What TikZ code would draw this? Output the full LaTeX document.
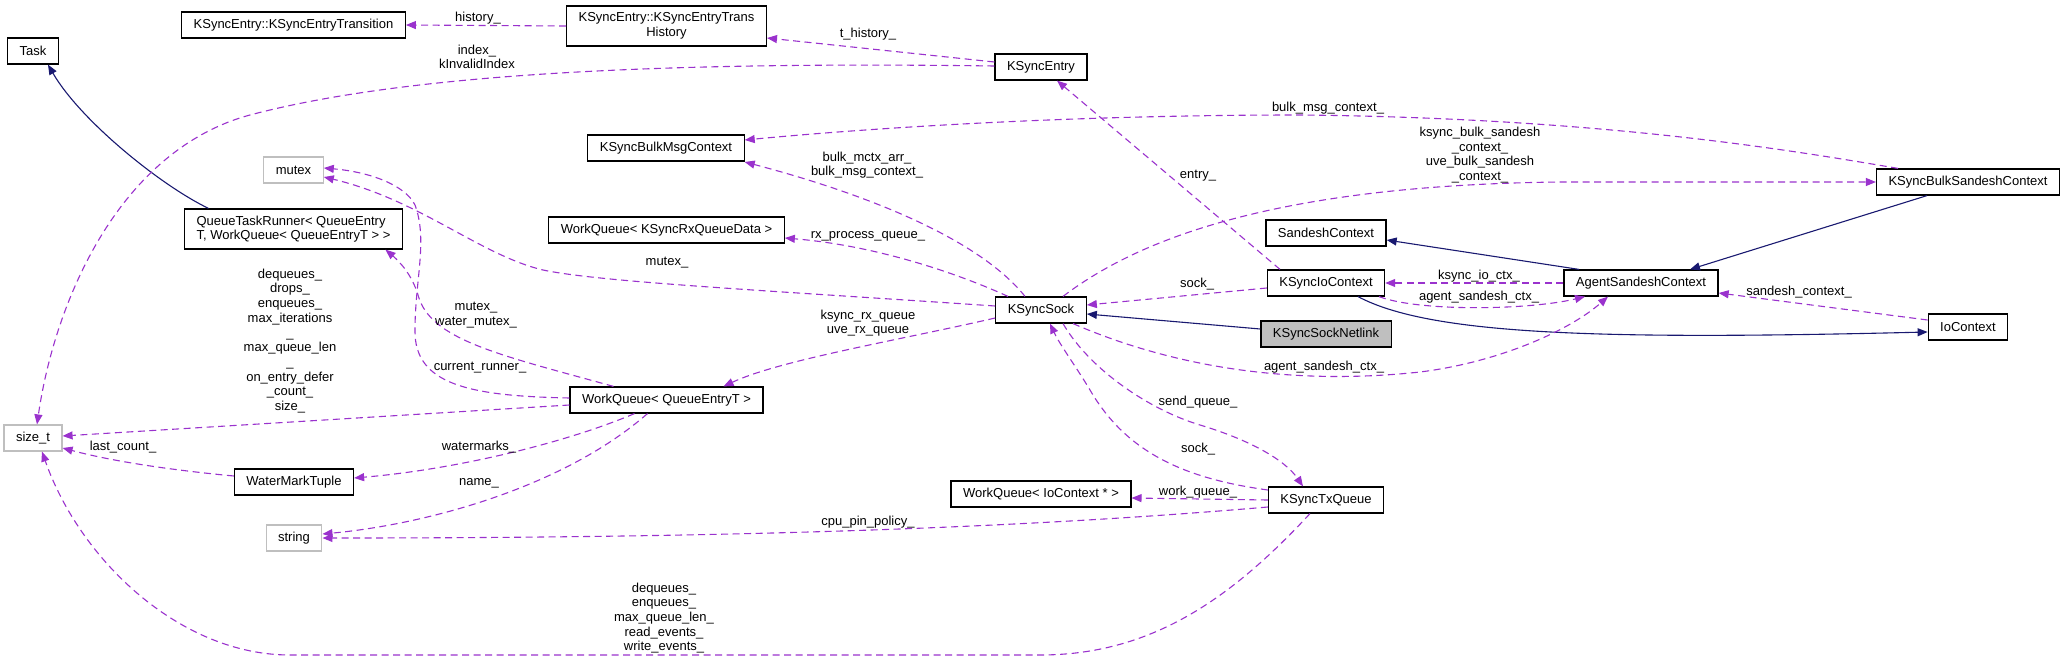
\documentclass[tikz,border=0pt]{standalone}
\usepackage{fontspec}
\setmainfont{Liberation Sans}
\usepackage{xcolor}
\usepackage{tikz}
\usetikzlibrary{arrows.meta}
\definecolor{mempurple}{HTML}{9A32CD}
\definecolor{inhnavy}{HTML}{191970}
\definecolor{extgray}{HTML}{BFBFBF}
\tikzset{
  cls/.style={draw, line width=1.2pt, fill=white, minimum height=26pt,
              inner xsep=12pt, inner ysep=3pt, font=\fontsize{13}{14.7}\selectfont},
  twoline/.style={cls, minimum height=40pt},
  ext/.style={cls, draw=extgray},
  cur/.style={cls, fill=extgray},
  lbl/.style={inner sep=0pt, align=center, font=\fontsize{13}{14.7}\selectfont},
  memarrow/.style={-{Triangle[length=10pt,width=8pt]}, draw=mempurple,
                   line width=1.1pt, dash pattern=on 7pt off 4.5pt},
  inharrow/.style={-{Triangle[length=10pt,width=8pt]}, draw=inhnavy,
                   line width=1.1pt},
}
\begin{document}
\begin{tikzpicture}[x=1pt, y=-1pt]
  \useasboundingbox (0,0) rectangle (2065,661);

  % classes, column by column
  \node[cls]              (task)    at (33,51)    {Task};
  \node[ext]              (sizet)   at (33,438)   {size\_t};
  \node[cls]              (trans)   at (293.5,25) {KSyncEntry::KSyncEntryTransition};
  \node[ext]              (mutex)   at (293.5,170) {mutex};
  \node[twoline, align=left] (qtr)  at (293.5,229) {QueueTaskRunner< QueueEntry\\T, WorkQueue< QueueEntryT > >};
  \node[cls]              (wmt)     at (294,482)  {WaterMarkTuple};
  \node[ext]              (string)  at (294,538)  {string};
  \node[twoline, align=center] (hist) at (666.5,26) {KSyncEntry::KSyncEntryTrans\\History};
  \node[cls]              (bulkmsg) at (666,148)  {KSyncBulkMsgContext};
  \node[cls]              (wqrx)    at (666.5,230) {WorkQueue< KSyncRxQueueData >};
  \node[cls]              (wq)      at (666.5,400) {WorkQueue< QueueEntryT >};
  \node[cls]              (entry)   at (1041,67)  {KSyncEntry};
  \node[cls]              (sock)    at (1041,310) {KSyncSock};
  \node[cls]              (wqio)    at (1041,494) {WorkQueue< IoContext * >};
  \node[cls]              (sandesh) at (1326,233) {SandeshContext};
  \node[cls]              (ioctx)   at (1326,283) {KSyncIoContext};
  \node[cur]              (netlink) at (1326,334) {KSyncSockNetlink};
  \node[cls]              (txq)     at (1326,500) {KSyncTxQueue};
  \node[cls]              (agent)   at (1641,283) {AgentSandeshContext};
  \node[cls]              (bulksan) at (1968,182) {KSyncBulkSandeshContext};
  \node[cls]              (ioc)     at (1968,327) {IoContext};

  % inheritance
  \draw[inharrow] ([xshift=-85pt]qtr.north) .. controls (160,185) and (80,120) .. ([xshift=15pt]task.south);
  \draw[inharrow] ([yshift=5pt]netlink.west) -- ([yshift=-4pt]sock.east);
  \draw[inharrow] ([xshift=-41pt]bulksan.south) -- ([xshift=49pt]agent.north);
  \draw[inharrow] ([xshift=-62pt]agent.north) -- ([yshift=-7pt]sandesh.east);
  \draw[inharrow] ([xshift=32pt]ioctx.south) .. controls (1430,335) and (1600,340) .. ([yshift=-5pt]ioc.west);

  % members
  \draw[memarrow] (hist.west) -- (trans.east);
  \draw[memarrow] ([yshift=5pt]entry.west) -- ([yshift=-12pt]hist.east);
  \draw[memarrow] ([yshift=1pt]entry.west) .. controls (700,62) and (420,70) .. (250,115)
                  .. controls (120,150) and (55,300) .. ([xshift=4pt]sizet.north);
  \draw[memarrow] ([yshift=4pt]sock.west) .. controls (760,290) and (600,282) .. (543,270)
                  .. controls (480,255) and (420,200) .. ([yshift=-7pt]mutex.east);
  \draw[memarrow] ([yshift=2pt]wq.west) .. controls (470,396) and (414,385) .. (415,330)
                  .. controls (415,280) and (428,240) .. (415,205)
                  .. controls (405,185) and (370,172) .. ([yshift=2pt]mutex.east);
  \draw[memarrow] ([xshift=-53pt]wq.north) .. controls (500,355) and (430,340) .. (418,295)
                  .. controls (412,275) and (400,262) .. ([xshift=92pt]qtr.south);
  \draw[memarrow] ([yshift=-5pt]wq.west) -- ([yshift=2pt]sizet.east);
  \draw[memarrow] ([yshift=6pt]wmt.west) .. controls (150,468) and (100,458) .. ([yshift=-10pt]sizet.east);
  \draw[memarrow] ([xshift=-32pt]wq.south) .. controls (560,445) and (450,470) .. ([yshift=4pt]wmt.east);
  \draw[memarrow] ([xshift=-19pt]wq.south) .. controls (560,490) and (420,525) .. ([yshift=4pt]string.east);
  \draw[memarrow] ([yshift=-7pt]txq.west) .. controls (1000,530) and (700,538) .. (string.east);
  \draw[memarrow] ([xshift=-16pt]txq.south) .. controls (1230,600) and (1150,655) .. (1040,655)
                  -- (290,655) .. controls (180,655) and (80,560) .. ([xshift=9pt]sizet.south);
  \draw[memarrow] (txq.west) -- ([yshift=-4pt]wqio.east);
  \draw[memarrow] ([yshift=10pt]txq.west) .. controls (1180,478) and (1125,450) .. (1090,390)
                  .. controls (1075,365) and (1060,345) .. ([xshift=9pt]sock.south);
  \draw[memarrow] ([xshift=22pt]sock.south) .. controls (1090,370) and (1150,410) .. (1200,425)
                  .. controls (1250,440) and (1285,460) .. ([xshift=-23pt]txq.north);
  \draw[memarrow] ([yshift=-8pt]sock.west) .. controls (900,340) and (780,360) .. ([xshift=57pt]wq.north);
  \draw[memarrow] ([xshift=-33pt]sock.north) .. controls (950,270) and (870,245) .. ([yshift=-8pt]wqrx.east);
  \draw[memarrow] ([xshift=-16pt]sock.north) .. controls (980,240) and (870,195) .. ([yshift=-14pt]bulkmsg.east);
  \draw[memarrow] ([xshift=-46pt]ioctx.north) -- ([xshift=16pt]entry.south);
  \draw[memarrow] ([yshift=-5pt]ioctx.west) -- ([yshift=5pt]sock.east);
  \draw[memarrow] ([xshift=22pt]sock.north) .. controls (1150,230) and (1300,185) .. (1560,182)
                  -- (bulksan.west);
  \draw[memarrow] ([xshift=-70pt]bulksan.north) .. controls (1790,150) and (1600,118) .. (1300,115)
                  .. controls (1050,115) and (850,130) .. ([yshift=8pt]bulkmsg.east);
  \draw[memarrow] (agent.west) -- (ioctx.east);
  \draw[memarrow] ([xshift=53pt]ioctx.south) .. controls (1420,312) and (1530,310) .. ([xshift=-56pt]agent.south);
  \draw[memarrow] ([xshift=32pt]sock.south) .. controls (1180,370) and (1300,385) .. (1420,372)
                  .. controls (1500,362) and (1570,330) .. ([xshift=-33pt]agent.south);
  \draw[memarrow] ([yshift=7pt]ioc.west) -- ([yshift=-10pt]agent.east);

  % edge labels
  \node[lbl] (lhist)  at (478,18)   {history\_};
  \node[lbl] (lidx)   at (477,57)   {index\_\\kInvalidIndex};
  \node[lbl] (lthist) at (868,34)   {t\_history\_};
  \node[lbl] (lbulk)  at (1328,108) {bulk\_msg\_context\_};
  \node[lbl] (lksb)   at (1480,155) {ksync\_bulk\_sandesh\\\_context\_\\uve\_bulk\_sandesh\\\_context\_};
  \node[lbl] (lbmctx) at (867,165)  {bulk\_mctx\_arr\_\\bulk\_msg\_context\_};
  \node[lbl] (lentry) at (1198,176) {entry\_};
  \node[lbl] (lrxp)   at (868,236)  {rx\_process\_queue\_};
  \node[lbl] (lmtx)   at (667,263)  {mutex\_};
  \node[lbl] (lsock)  at (1197,284) {sock\_};
  \node[lbl] (lksio)  at (1479,276) {ksync\_io\_ctx\_};
  \node[lbl] (lasc)   at (1479,297) {agent\_sandesh\_ctx\_};
  \node[lbl] (lsctx)  at (1799,292) {sandesh\_context\_};
  \node[lbl] (lasc2)  at (1324,367) {agent\_sandesh\_ctx\_};
  \node[lbl] (lrxq)   at (868,323)  {ksync\_rx\_queue\\uve\_rx\_queue};
  \node[lbl] (lwmtx)  at (476,315)  {mutex\_\\water\_mutex\_};
  \node[lbl] (lcur)   at (480,368)  {current\_runner\_};
  \node[lbl] (lcnt)   at (290,341)  {dequeues\_\\drops\_\\enqueues\_\\max\_iterations\\\_\\max\_queue\_len\\\_\\on\_entry\_defer\\\_count\_\\size\_};
  \node[lbl] (llast)  at (123,447)  {last\_count\_};
  \node[lbl] (lwm)    at (479,447)  {watermarks\_};
  \node[lbl] (lname)  at (479,483)  {name\_};
  \node[lbl] (lcpu)   at (868,522)  {cpu\_pin\_policy\_};
  \node[lbl] (lsend)  at (1198,402) {send\_queue\_};
  \node[lbl] (lsock2) at (1198,449) {sock\_};
  \node[lbl] (lwork)  at (1198,492) {work\_queue\_};
  \node[lbl] (ltx)    at (664,618)  {dequeues\_\\enqueues\_\\max\_queue\_len\_\\read\_events\_\\write\_events\_};
\end{tikzpicture}
\end{document}
